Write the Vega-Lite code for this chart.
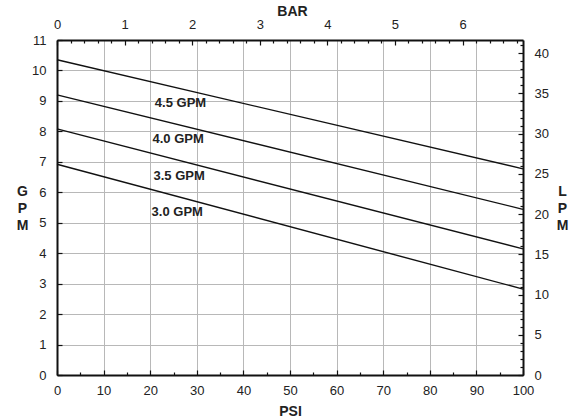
{
  "$schema": "https://vega.github.io/schema/vega-lite/v6.json",
  "width": 466,
  "height": 335,
  "autosize": {"type": "none"},
  "padding": {"left": 57, "top": 40, "right": 63, "bottom": 42},
  "background": "white",
  "config": {
    "font": "Liberation Sans",
    "view": {"stroke": null},
    "axis": {
      "labelFont": "Liberation Sans",
      "labelFontSize": 13,
      "labelColor": "#222222",
      "titleFont": "Liberation Sans",
      "titleFontSize": 14,
      "titleFontWeight": "bold",
      "titleColor": "#222222",
      "domainColor": "#111111",
      "domainWidth": 2,
      "tickColor": "#111111",
      "tickWidth": 1.2,
      "gridColor": "#b8b8b8",
      "gridWidth": 1,
      "labelFlush": false,
      "labelOverlap": false,
      "labelBound": false
    }
  },
  "datasets": {
    "lines": [
      {"series": "4.5 GPM", "psi": 0, "gpm": 10.35},
      {"series": "4.5 GPM", "psi": 100, "gpm": 6.77},
      {"series": "4.0 GPM", "psi": 0, "gpm": 9.2},
      {"series": "4.0 GPM", "psi": 100, "gpm": 5.44},
      {"series": "3.5 GPM", "psi": 0, "gpm": 8.08},
      {"series": "3.5 GPM", "psi": 100, "gpm": 4.14},
      {"series": "3.0 GPM", "psi": 0, "gpm": 6.92},
      {"series": "3.0 GPM", "psi": 100, "gpm": 2.82}
    ],
    "labels": [
      {"label": "4.5 GPM", "psi": 26.5, "gpm": 8.93},
      {"label": "4.0 GPM", "psi": 26.0, "gpm": 7.75},
      {"label": "3.5 GPM", "psi": 26.2, "gpm": 6.54},
      {"label": "3.0 GPM", "psi": 25.8, "gpm": 5.35}
    ],
    "secondary": [
      {"bar": 0, "lpm": 0},
      {"bar": 6.8948, "lpm": 41.64}
    ]
  },
  "layer": [
    {
      "layer": [
        {
          "data": {"name": "lines"},
          "mark": {"type": "line", "color": "#111111", "strokeWidth": 1.4},
          "encoding": {
            "x": {
              "field": "psi", "type": "quantitative",
              "scale": {"domain": [0, 100], "nice": false},
              "axis": {
                "orient": "bottom",
                "values": [0,5,10,15,20,25,30,35,40,45,50,55,60,65,70,75,80,85,90,95,100],
                "title": "PSI",
                "titleX": 233, "titleY": 40,
                "titleAlign": "center", "titleBaseline": "alphabetic",
                "labelExpr": "datum.value % 10 === 0 ? '' + datum.value : ''",
                "labelOverlap": false,
                "tickSize": {"condition": {"test": "datum.value % 10 === 0", "value": -5}, "value": -3},
                "labelPadding": 14,
                "grid": true,
                "gridOpacity": {"condition": {"test": "datum.value % 10 === 0", "value": 1}, "value": 0}
              }
            },
            "y": {
              "field": "gpm", "type": "quantitative",
              "scale": {"domain": [0, 11], "nice": false},
              "axis": {
                "orient": "left",
                "values": [0,1,2,3,4,5,6,7,8,9,10,11],
                "title": ["G", "P", "M"],
                "titleAngle": 0,
                "titleX": -35, "titleY": 144,
                "titleAlign": "center", "titleBaseline": "top",
                "titleLineHeight": 17,
                "labelExpr": "'' + datum.value",
                "labelOverlap": false,
                "tickSize": -5,
                "labelPadding": 16,
                "grid": true
              }
            },
            "detail": {"field": "series", "type": "nominal"}
          }
        },
        {
          "data": {"name": "labels"},
          "mark": {"type": "text", "fontWeight": "bold", "fontSize": 13, "color": "#222222", "font": "Liberation Sans"},
          "encoding": {
            "x": {
              "field": "psi", "type": "quantitative",
              "axis": {
                "orient": "bottom",
                "values": [0,5,10,15,20,25,30,35,40,45,50,55,60,65,70,75,80,85,90,95,100],
                "title": "PSI",
                "titleX": 233, "titleY": 40,
                "titleAlign": "center", "titleBaseline": "alphabetic",
                "labelExpr": "datum.value % 10 === 0 ? '' + datum.value : ''",
                "labelOverlap": false,
                "tickSize": {"condition": {"test": "datum.value % 10 === 0", "value": -5}, "value": -3},
                "labelPadding": 14,
                "grid": true,
                "gridOpacity": {"condition": {"test": "datum.value % 10 === 0", "value": 1}, "value": 0}
              }
            },
            "y": {
              "field": "gpm", "type": "quantitative",
              "axis": {
                "orient": "left",
                "values": [0,1,2,3,4,5,6,7,8,9,10,11],
                "title": ["G", "P", "M"],
                "titleAngle": 0,
                "titleX": -35, "titleY": 144,
                "titleAlign": "center", "titleBaseline": "top",
                "titleLineHeight": 17,
                "labelExpr": "'' + datum.value",
                "labelOverlap": false,
                "tickSize": -5,
                "labelPadding": 16,
                "grid": true
              }
            },
            "text": {"field": "label"}
          }
        }
      ]
    },
    {
      "data": {"name": "secondary"},
      "mark": {"type": "point", "opacity": 0},
      "encoding": {
        "x": {
          "field": "bar", "type": "quantitative",
          "scale": {"domain": [0, 6.8948], "nice": false},
          "axis": {
            "orient": "top",
            "values": [0,0.2,0.4,0.6,0.8,1,1.2,1.4,1.6,1.8,2,2.2,2.4,2.6,2.8,3,3.2,3.4,3.6,3.8,4,4.2,4.4,4.6,4.8,5,5.2,5.4,5.6,5.8,6,6.2,6.4,6.6,6.8],
            "title": "BAR",
            "titleX": 235, "titleY": -25,
            "titleAlign": "center", "titleBaseline": "alphabetic",
            "labelExpr": "abs(datum.value - round(datum.value)) < 0.001 ? '' + round(datum.value) : ''",
            "labelOverlap": false,
            "tickSize": {"condition": {"test": "abs(datum.value - round(datum.value)) < 0.001", "value": -5}, "value": -3},
            "labelPadding": 14,
            "grid": false
          }
        },
        "y": {
          "field": "lpm", "type": "quantitative",
          "scale": {"domain": [0, 41.64], "nice": false},
          "axis": {
            "orient": "right",
            "values": [0,1,2,3,4,5,6,7,8,9,10,11,12,13,14,15,16,17,18,19,20,21,22,23,24,25,26,27,28,29,30,31,32,33,34,35,36,37,38,39,40,41],
            "title": ["L", "P", "M"],
            "titleAngle": 0,
            "titleX": 39, "titleY": 144,
            "titleAlign": "center", "titleBaseline": "top",
            "titleLineHeight": 17,
            "labelExpr": "datum.value % 5 === 0 ? '' + datum.value : ''",
            "labelOverlap": false,
            "tickSize": {"condition": {"test": "datum.value % 5 === 0", "value": -5}, "value": -3},
            "labelPadding": 16,
            "grid": false
          }
        }
      }
    }
  ],
  "resolve": {
    "scale": {"x": "independent", "y": "independent"},
    "axis": {"x": "independent", "y": "independent"}
  }
}
